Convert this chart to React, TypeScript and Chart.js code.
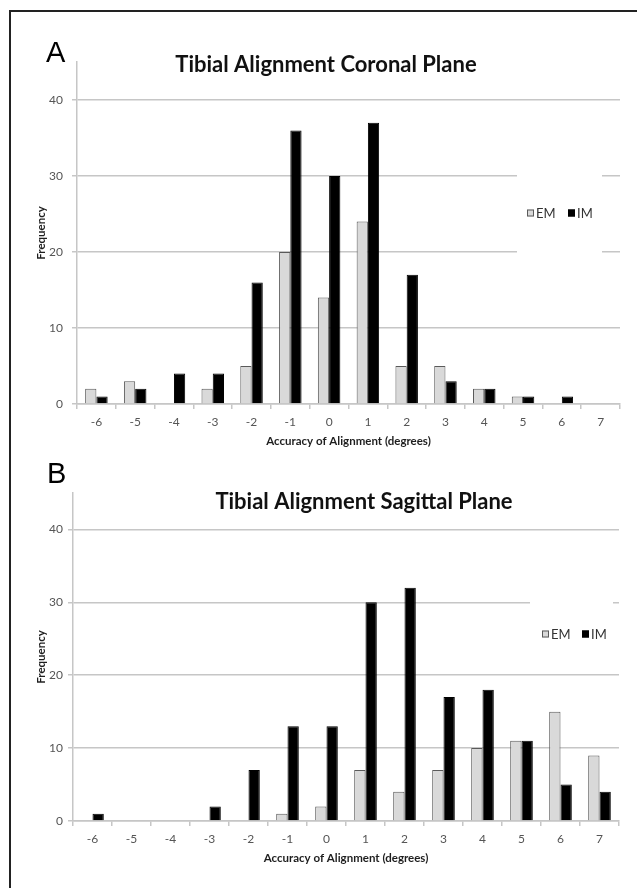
import React, { useEffect, useRef } from "react";
import { Chart, registerables } from "chart.js";

Chart.register(...registerables);

// ---- data ----
const categories = ["-6", "-5", "-4", "-3", "-2", "-1", "0", "1", "2", "3", "4", "5", "6", "7"];
const seriesNames = ["EM", "IM"];
const coronalEM = [2, 3, 0, 2, 5, 20, 14, 24, 5, 5, 2, 1, 0, 0];
const coronalIM = [1, 2, 4, 4, 16, 36, 30, 37, 17, 3, 2, 1, 1, 0];
const sagittalEM = [0, 0, 0, 0, 0, 1, 2, 7, 4, 7, 10, 11, 15, 9];
const sagittalIM = [1, 0, 0, 2, 7, 13, 13, 30, 32, 17, 18, 11, 5, 4];
const yTickValues = [0, 10, 20, 30, 40];
const yMax = 45;
const panelTitles = ["Tibial Alignment Coronal Plane", "Tibial Alignment Sagittal Plane"];
const panelLetters = ["A", "B"];
const xAxisTitle = "Accuracy of Alignment (degrees)";
const yAxisTitle = "Frequency";

// ---- styles ----
const EM_FILL = "#d9d9d9";
const EM_BORDER = "#5a5a5a";
const IM_FILL = "#000000";
const GRID = "#c6c6c6";
const TICK_COLOR = "#555555";
const TEXT_DARK = "#1e1e1e";

const decorPlugin = {
  id: "decor",
  afterDraw(chart: any, _args: any, opts: any) {
    const ctx = chart.ctx as CanvasRenderingContext2D;
    ctx.save();
    // panel letter
    ctx.fillStyle = "#000";
    ctx.textAlign = "left";
    ctx.textBaseline = "alphabetic";
    ctx.font = '29px "Liberation Sans"';
    ctx.fillText(opts.letter, opts.letterX, opts.letterY);
    // title
    ctx.font = "bold 22px Lato";
    ctx.textAlign = "center";
    ctx.fillStyle = "#111";
    ctx.fillText(opts.title, opts.titleX, opts.titleY);
    // legend
    const lb = opts.legendBox;
    ctx.fillStyle = "#fff";
    ctx.fillRect(lb.x, lb.y, lb.w, lb.h);
    ctx.font = "13px Lato";
    ctx.textAlign = "left";
    ctx.textBaseline = "middle";
    chart.data.datasets.forEach((ds: any, i: number) => {
      const x = opts.legendX + i * opts.legendStep;
      const y = opts.legendY;
      ctx.fillStyle = ds.backgroundColor;
      ctx.fillRect(x, y - 3.5, 7, 7);
      ctx.strokeStyle = ds.borderColor;
      ctx.lineWidth = 1;
      ctx.strokeRect(x + 0.5, y - 3, 6, 6);
      ctx.fillStyle = "#333";
      ctx.fillText(ds.label, x + 9, y + 0.5);
    });
    ctx.restore();
  },
};

type PanelCfg = {
  em: number[];
  im: number[];
  idx: number;
  height: number;
  padTop: number;
  padLeft: number;
  padRight: number;
  yWidth: number;
  xHeight: number;
  xTitlePadBottom: number;
  yTickPad: number;
  titleX: number;
  titleY: number;
  letterX: number;
  letterY: number;
  legendBox: { x: number; y: number; w: number; h: number };
  legendX: number;
  legendY: number;
  legendStep: number;
};

function Panel({ cfg, top }: { cfg: PanelCfg; top: number }) {
  const ref = useRef<HTMLCanvasElement | null>(null);
  useEffect(() => {
    if (!ref.current) return;
    const chart = new Chart(ref.current, {
      type: "bar",
      data: {
        labels: categories,
        datasets: [
          {
            label: seriesNames[0],
            data: cfg.em,
            backgroundColor: EM_FILL,
            borderColor: EM_BORDER,
            borderWidth: 1,
          },
          {
            label: seriesNames[1],
            data: cfg.im,
            backgroundColor: IM_FILL,
            borderColor: "#000",
            borderWidth: 1,
          },
        ],
      },
      options: {
        responsive: false,
        animation: false,
        devicePixelRatio: 1,
        layout: {
          padding: { top: cfg.padTop, left: cfg.padLeft, right: cfg.padRight, bottom: 0 },
        },
        datasets: {
          bar: { categoryPercentage: 0.58, barPercentage: 1.0 },
        },
        plugins: {
          legend: { display: false },
          title: { display: false },
          tooltip: { enabled: false },
          decor: {
            letter: panelLetters[cfg.idx],
            letterX: cfg.letterX,
            letterY: cfg.letterY,
            title: panelTitles[cfg.idx],
            titleX: cfg.titleX,
            titleY: cfg.titleY,
            legendBox: cfg.legendBox,
            legendX: cfg.legendX,
            legendY: cfg.legendY,
            legendStep: cfg.legendStep,
          },
        } as any,
        scales: {
          x: {
            type: "category",
            offset: true,
            grid: {
              display: true,
              drawOnChartArea: false,
              drawTicks: true,
              tickLength: 5,
              offset: true,
              color: GRID,
              lineWidth: 1.5,
            },
            border: { display: true, color: GRID, width: 1.5 },
            ticks: {
              autoSkip: false,
              maxRotation: 0,
              padding: 6,
              color: TICK_COLOR,
              font: { family: "Lato", size: 12 },
            },
            title: {
              display: true,
              text: xAxisTitle,
              color: TEXT_DARK,
              font: { family: "Lato", size: 11.5, weight: "bold" },
              padding: { top: 4, bottom: cfg.xTitlePadBottom },
            },
            afterFit: (scale: any) => {
              scale.height = cfg.xHeight;
            },
          },
          y: {
            min: 0,
            max: yMax,
            ticks: {
              stepSize: 10,
              padding: cfg.yTickPad,
              color: TICK_COLOR,
              font: { family: "Lato", size: 12 },
            },
            afterBuildTicks: (axis: any) => {
              axis.ticks = yTickValues.map((v) => ({ value: v }));
            },
            grid: {
              color: GRID,
              lineWidth: 1.5,
              tickLength: 5,
              drawTicks: true,
            },
            border: { display: true, color: GRID, width: 1.5 },
            title: {
              display: true,
              text: yAxisTitle,
              color: TEXT_DARK,
              font: { family: "Lato", size: 11.5, weight: "bold" },
              padding: { top: 4, bottom: 4 },
            },
            afterFit: (scale: any) => {
              scale.width = cfg.yWidth;
            },
          },
        },
      } as any,
      plugins: [decorPlugin],
    });
    return () => chart.destroy();
  }, []);
  return (
    <canvas
      ref={ref}
      width={637}
      height={cfg.height}
      style={{ position: "absolute", left: 0, top, width: 637, height: cfg.height }}
    />
  );
}

const panelA: PanelCfg = {
  em: coronalEM,
  im: coronalIM,
  idx: 0,
  height: 460,
  padTop: 62,
  padLeft: 30,
  padRight: 17,
  yWidth: 47,
  xHeight: 56,
  xTitlePadBottom: 12,
  yTickPad: 9,
  titleX: 326,
  titleY: 72,
  letterX: 46,
  letterY: 62,
  legendBox: { x: 517, y: 165, w: 85, h: 97 },
  legendX: 527,
  legendY: 213,
  legendStep: 41,
};

const panelB: PanelCfg = {
  em: sagittalEM,
  im: sagittalIM,
  idx: 1,
  height: 428,
  padTop: 33,
  padLeft: 30,
  padRight: 18,
  yWidth: 43,
  xHeight: 67,
  xTitlePadBottom: 23,
  yTickPad: 5,
  titleX: 364,
  titleY: 49,
  letterX: 47,
  letterY: 23,
  legendBox: { x: 530, y: 130, w: 83, h: 70 },
  legendX: 542,
  legendY: 174,
  legendStep: 40,
};

export default function App() {
  return (
    <div
      style={{
        position: "absolute",
        left: 0,
        top: 0,
        width: 637,
        height: 888,
        background: "#fff",
        overflow: "hidden",
      }}
    >
      <div
        style={{
          position: "absolute",
          left: 9,
          top: 10,
          width: 700,
          height: 1000,
          borderTop: "2px solid #222",
          borderLeft: "2px solid #222",
          boxSizing: "border-box",
        }}
      />
      <Panel cfg={panelA} top={0} />
      <Panel cfg={panelB} top={460} />
    </div>
  );
}
